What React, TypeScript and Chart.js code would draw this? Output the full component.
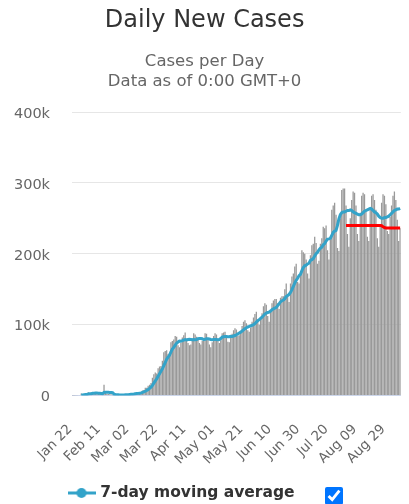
import React, { useEffect, useRef } from 'react';
import Chart from 'chart.js/auto';

// ---- data (values in thousands of cases) ----
const categories = [
  'Jan 22','Jan 23','Jan 24','Jan 25','Jan 26','Jan 27','Jan 28','Jan 29','Jan 30','Jan 31',
  'Feb 01','Feb 02','Feb 03','Feb 04','Feb 05','Feb 06','Feb 07','Feb 08','Feb 09','Feb 10','Feb 11','Feb 12','Feb 13','Feb 14','Feb 15','Feb 16','Feb 17','Feb 18','Feb 19','Feb 20','Feb 21','Feb 22','Feb 23','Feb 24','Feb 25','Feb 26','Feb 27','Feb 28','Feb 29',
  'Mar 01','Mar 02','Mar 03','Mar 04','Mar 05','Mar 06','Mar 07','Mar 08','Mar 09','Mar 10','Mar 11','Mar 12','Mar 13','Mar 14','Mar 15','Mar 16','Mar 17','Mar 18','Mar 19','Mar 20','Mar 21','Mar 22','Mar 23','Mar 24','Mar 25','Mar 26','Mar 27','Mar 28','Mar 29','Mar 30','Mar 31',
  'Apr 01','Apr 02','Apr 03','Apr 04','Apr 05','Apr 06','Apr 07','Apr 08','Apr 09','Apr 10','Apr 11','Apr 12','Apr 13','Apr 14','Apr 15','Apr 16','Apr 17','Apr 18','Apr 19','Apr 20','Apr 21','Apr 22','Apr 23','Apr 24','Apr 25','Apr 26','Apr 27','Apr 28','Apr 29','Apr 30',
  'May 01','May 02','May 03','May 04','May 05','May 06','May 07','May 08','May 09','May 10','May 11','May 12','May 13','May 14','May 15','May 16','May 17','May 18','May 19','May 20','May 21','May 22','May 23','May 24','May 25','May 26','May 27','May 28','May 29','May 30','May 31',
  'Jun 01','Jun 02','Jun 03','Jun 04','Jun 05','Jun 06','Jun 07','Jun 08','Jun 09','Jun 10','Jun 11','Jun 12','Jun 13','Jun 14','Jun 15','Jun 16','Jun 17','Jun 18','Jun 19','Jun 20','Jun 21','Jun 22','Jun 23','Jun 24','Jun 25','Jun 26','Jun 27','Jun 28','Jun 29','Jun 30',
  'Jul 01','Jul 02','Jul 03','Jul 04','Jul 05','Jul 06','Jul 07','Jul 08','Jul 09','Jul 10','Jul 11','Jul 12','Jul 13','Jul 14','Jul 15','Jul 16','Jul 17','Jul 18','Jul 19','Jul 20','Jul 21','Jul 22','Jul 23','Jul 24','Jul 25','Jul 26','Jul 27','Jul 28','Jul 29','Jul 30','Jul 31',
  'Aug 01','Aug 02','Aug 03','Aug 04','Aug 05','Aug 06','Aug 07','Aug 08','Aug 09','Aug 10','Aug 11','Aug 12','Aug 13','Aug 14','Aug 15','Aug 16','Aug 17','Aug 18','Aug 19','Aug 20','Aug 21','Aug 22','Aug 23','Aug 24','Aug 25','Aug 26','Aug 27','Aug 28','Aug 29','Aug 30','Aug 31',
  'Sep 01','Sep 02','Sep 03','Sep 04','Sep 05','Sep 06','Sep 07','Sep 08',
];

const tickLabels = ['Jan 22', 'Feb 11', 'Mar 02', 'Mar 22', 'Apr 11', 'May 01', 'May 21', 'Jun 10', 'Jun 30', 'Jul 20', 'Aug 09', 'Aug 29'];

const yTicks = [0, 100, 200, 300, 400];

const dailyCases = [
  // Jan
  0.1, 0.1, 0.3, 0.5, 0.7, 0.8, 2.7, 0.6, 2.1, 1.7,
  // Feb
  2.1, 4.7, 3.1, 4.0, 3.7, 3.2, 3.4, 2.7, 3.1, 2.5, 2.0, 2.1, 15.1, 5.1, 2.6, 2.0, 1.9, 1.8, 0.4, 0.5,
  1.0, 1.1, 0.4, 0.6, 0.9, 0.8, 1.1, 1.4, 1.7,
  // Mar
  2.0, 1.8, 2.4, 2.2, 2.8, 3.9, 4.0, 3.8, 4.1, 4.5, 7.1, 7.6, 10.8, 10.9, 13.8, 15.0, 17.5, 24.9, 29.9, 32.6,
  30.9, 38.3, 40.9, 41.5, 49.2, 60.9, 62.9, 63.7, 58.6, 59.8, 75.0,
  // Apr
  77, 79, 84, 83, 71, 68, 74, 82, 85, 89, 80, 74, 71, 72, 80, 88, 86, 83, 80, 74,
  72, 77, 81, 88, 87, 80, 72, 68, 75, 84,
  // May
  88, 86, 78, 74, 78, 88, 89, 90, 85, 76, 75, 82, 87, 92, 95, 93, 84, 85, 90, 98,
  104, 106, 102, 92, 90, 96, 104, 110, 115, 118, 106,
  // Jun
  100, 108, 116, 126, 130, 128, 112, 104, 118, 130, 134, 136, 136, 130, 122, 138, 140, 140, 150, 158,
  140, 132, 158, 168, 172, 182, 186, 160, 158, 170,
  // Jul
  205, 202, 200, 192, 172, 165, 198, 212, 214, 224, 215, 186, 190, 214, 222, 238, 236, 240, 205, 192,
  220, 262, 268, 272, 255, 208, 204, 250, 290, 292, 292,
  // Aug
  268, 228, 210, 250, 276, 288, 286, 268, 228, 218, 258, 282, 286, 284, 262, 224, 218, 262, 282, 284,
  276, 262, 222, 210, 238, 272, 284, 282, 270, 232, 228,
  // Sep
  252, 268, 282, 288, 276, 248, 218, 236,
];

const movingAverageStart = 'Jan 28';
const movingAverage = [
  0.7, 0.8, 1.1, 1.3,
  1.5, 2.1, 2.4, 2.6, 3.1, 3.2, 3.5, 3.5, 3.3, 3.2, 2.9, 2.7, 4.4, 4.7, 4.6, 4.5, 4.4, 4.4, 4.1, 2.0,
  1.5, 1.2, 1.0, 0.8, 0.7, 0.8, 0.8, 0.9, 1.0,
  1.2, 1.4, 1.6, 1.8, 2.0, 2.4, 2.7, 3.0, 3.3, 3.6, 4.3, 5.0, 6.0, 7.0, 8.4, 10.0, 11.8, 14.4, 17.5, 20.7,
  23.5, 27.0, 30.7, 34.1, 37.6, 42.0, 46.4, 51.1, 54.0, 56.7, 61.4,
  65.4, 68.0, 71.0, 73.8, 75.5, 76.7, 76.6, 77.3, 78.1, 78.9, 78.4, 78.9, 79.3, 79.0, 78.7, 79.1, 78.7, 79.1, 80.0, 80.4,
  80.4, 80.0, 79.0, 79.3, 79.9, 79.9, 79.6, 79.0, 78.7, 79.1,
  79.1, 79.0, 78.7, 79.0, 80.4, 82.3, 83.0, 83.3, 83.1, 82.9, 83.0, 83.6, 83.4, 83.9, 84.6, 85.7, 86.9, 88.3, 89.4, 91.0,
  92.7, 94.3, 95.6, 96.7, 97.4, 98.3, 99.1, 100.0, 101.3, 103.6, 105.6,
  107.0, 108.7, 110.4, 112.7, 114.9, 116.3, 117.1, 117.7, 119.1, 121.1, 122.3, 123.1, 124.3, 126.9, 129.4, 132.3, 133.7, 134.6, 136.6, 139.7,
  141.1, 142.6, 145.4, 149.4, 154.0, 158.6, 162.6, 165.4, 169.1, 170.9,
  176.1, 180.4, 183.0, 183.9, 185.6, 186.6, 190.6, 191.6, 193.3, 196.7, 200.0, 202.0, 205.6, 207.9, 209.3, 212.7, 214.4, 218.0, 220.7, 221.0,
  221.9, 226, 230, 232, 233, 240, 249, 255, 258, 259, 259,
  260, 261, 261, 262, 261, 259, 258, 257, 256, 255, 255, 256, 258, 260, 261, 262, 263, 264, 263, 261,
  259, 258, 256, 253, 251, 250, 250, 251, 251, 252, 253,
  255, 257, 259, 261, 262, 263, 263, 264,
];

const trendStart = 'Aug 01';
const trendValues = [
  240, 240, 240, 240, 240, 240, 240, 240, 240, 240, 240, 240, 240, 240, 240, 240, 240, 240, 240, 240,
  240, 240, 240, 240, 240, 239.5, 238, 237, 236.5, 236.5, 236.5,
  236.5, 236.5, 236.5, 236.5, 236.5, 236.5, 236.5, 236.5,
];

// ---- styling ----
const FONT = "'DejaVu Sans', sans-serif";
const BLUE = '#33a3c9';
const RED = '#ff0000';
const BAR = '#999999';
const CANVAS_W = 424;
const CANVAS_H = 504;
const LEGEND_CENTER_Y = 493;
const LEGEND_X = 70.5;

export default function App() {
  const ref = useRef<HTMLCanvasElement | null>(null);

  useEffect(() => {
    const canvas = ref.current;
    if (!canvas) return;
    Chart.defaults.font.family = FONT;

    const sym = document.createElement('canvas');
    sym.width = 28;
    sym.height = 12;
    const sctx = sym.getContext('2d');
    if (sctx) {
      sctx.strokeStyle = BLUE;
      sctx.lineWidth = 3;
      sctx.beginPath();
      sctx.moveTo(0, 6);
      sctx.lineTo(28, 6);
      sctx.stroke();
      sctx.fillStyle = BLUE;
      sctx.beginPath();
      sctx.arc(14, 6, 5, 0, Math.PI * 2);
      sctx.fill();
    }

    const maStart = categories.indexOf(movingAverageStart);
    const maPoints = movingAverage.map((v, i) => ({ x: categories[maStart + i], y: v }));
    const trStart = categories.indexOf(trendStart);
    const trendPoints = trendValues.map((v, i) => ({ x: categories[trStart + i], y: v }));

    const legendPlacer = {
      id: 'legendPlacer',
      afterLayout(chart: any) {
        const lg = chart.legend;
        if (!lg || !lg.lineWidths) return;
        const pad = lg.options.labels.padding;
        const itemH = lg.options.labels.font.size || 15;
        const dy = LEGEND_CENTER_Y - pad - itemH / 2 - lg.top;
        lg.top += dy;
        lg.bottom += dy;
        const w = lg.lineWidths[0] - pad;
        lg.left = 0;
        lg.right = 2 * LEGEND_X + w;
      },
    };

    const chart = new Chart(canvas, {
      type: 'bar',
      data: {
        labels: categories,
        datasets: [
          {
            type: 'bar',
            label: 'Daily Cases',
            data: dailyCases,
            backgroundColor: BAR,
            borderWidth: 0,
            barPercentage: 0.9,
            categoryPercentage: 1,
            order: 2,
          },
          {
            type: 'line',
            label: '7-day moving average',
            data: maPoints as any,
            borderColor: BLUE,
            backgroundColor: BLUE,
            borderWidth: 3,
            pointRadius: 0,
            pointStyle: sym as any,
            tension: 0,
            order: 1,
          },
          {
            type: 'line',
            label: 'Trend',
            data: trendPoints as any,
            borderColor: RED,
            backgroundColor: RED,
            borderWidth: 3,
            pointRadius: 0,
            tension: 0,
            order: 0,
          },
        ],
      },
      options: {
        responsive: false,
        animation: false,
        events: [],
        layout: { padding: { left: 0, right: 14.8, top: 0, bottom: 0 } },
        plugins: {
          tooltip: { enabled: false },
          title: {
            display: true,
            text: 'Daily New Cases',
            color: '#333333',
            font: { size: 24, weight: 'normal', family: FONT, lineHeight: 1.2 },
            padding: { top: 6.6, bottom: 0 },
          },
          subtitle: {
            display: true,
            text: ['Cases per Day', 'Data as of 0:00 GMT+0'],
            color: '#666666',
            font: { size: 16.5, family: FONT, lineHeight: '19.5px' },
            padding: { top: 16.65, bottom: 20.95 },
          },
          legend: {
            display: true,
            position: 'bottom',
            labels: {
              usePointStyle: true,
              pointStyleWidth: 22,
              padding: 10,
              color: '#333333',
              font: { size: 15.5, weight: 'bold', family: FONT },
              filter: (item: any) => item.datasetIndex === 1,
            },
          },
        },
        scales: {
          x: {
            grid: { display: false, drawTicks: false },
            border: { display: true, color: '#ccd6eb', width: 1 },
            ticks: {
              autoSkip: false,
              maxRotation: 45,
              minRotation: 45,
              padding: 26,
              labelOffset: -2.5,
              color: '#666666',
              font: { size: 13.5, family: FONT },
              callback: (_v: any, index: number) =>
                tickLabels.includes(categories[index]) ? categories[index] : null,
            },
            afterFit: (scale: any) => {
              scale.height = 73;
            },
          },
          y: {
            min: yTicks[0],
            max: yTicks[yTicks.length - 1],
            grid: { color: '#e6e6e6', drawTicks: false, lineWidth: 1 },
            border: { display: false },
            afterBuildTicks: (scale: any) => {
              scale.ticks = yTicks.map((v) => ({ value: v }));
            },
            ticks: {
              padding: 22,
              labelOffset: 2,
              color: '#666666',
              font: { size: 14.5, family: FONT },
              callback: (v: any) => (Number(v) === 0 ? '0' : `${v}k`),
            },
            afterFit: (scale: any) => {
              scale.width = 72;
            },
          },
        },
      },
      plugins: [legendPlacer],
    } as any);

    return () => chart.destroy();
  }, []);

  return (
    <div
      style={{
        position: 'absolute',
        left: 0,
        top: 0,
        width: 409,
        height: 504,
        overflow: 'hidden',
        background: '#ffffff',
      }}
    >
      <canvas ref={ref} width={CANVAS_W} height={CANVAS_H} style={{ display: 'block' }} />
      <input
        type="checkbox"
        defaultChecked
        style={{ position: 'absolute', left: 325, top: 487, width: 18, height: 18, margin: 0 }}
      />
    </div>
  );
}
